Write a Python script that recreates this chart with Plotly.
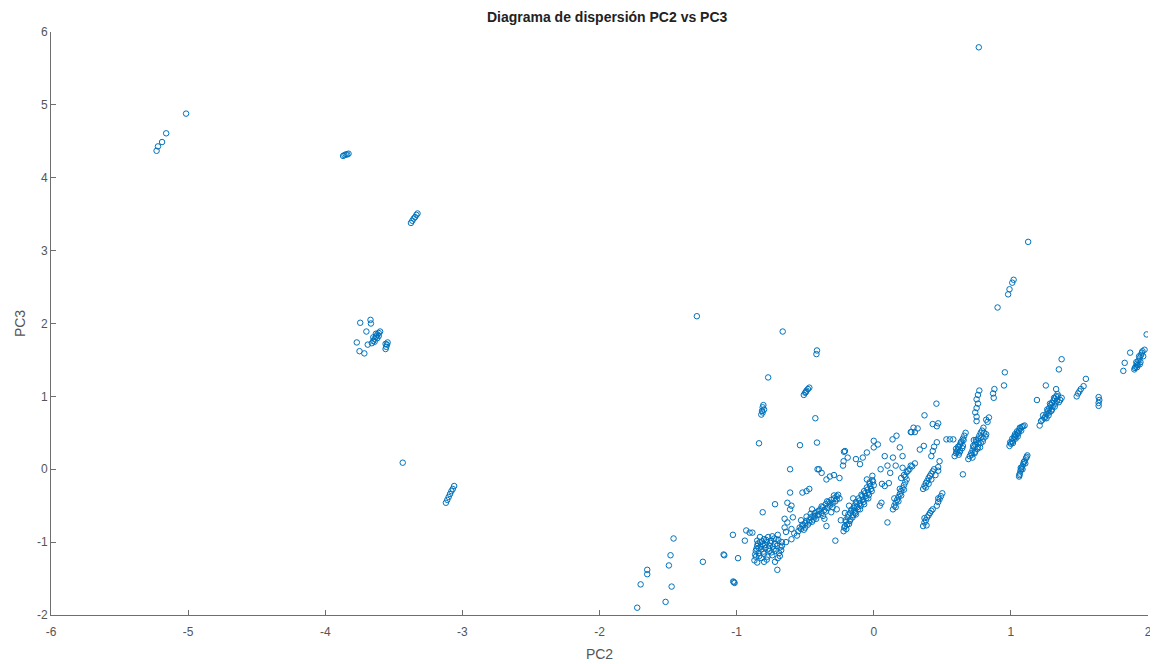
import plotly.graph_objects as go

# ---- data (PC2, PC3) ----
pc2_far = [-5.23, -5.22, -5.19, -5.16, -5.015,
           -3.87, -3.86, -3.85, -3.84, -3.83,
           -3.375, -3.365, -3.355, -3.345, -3.335, -3.327]
pc3_far = [4.37, 4.43, 4.49, 4.61, 4.88,
           4.30, 4.31, 4.32, 4.32, 4.33,
           3.38, 3.41, 3.44, 3.46, 3.49, 3.51]

pc2_left = [-3.745, -3.67, -3.667, -3.70, -3.77, -3.75, -3.715, -3.69,
            -3.66, -3.65, -3.64, -3.63, -3.62, -3.61, -3.60, -3.64, -3.62, -3.61, -3.63, -3.65,
            -3.56, -3.555, -3.55, -3.545, -3.56,
            -3.435,
            -3.12, -3.11, -3.10, -3.09, -3.08, -3.07, -3.06]
pc3_left = [2.01, 2.05, 2.00, 1.89, 1.74, 1.62, 1.59, 1.71,
            1.73, 1.76, 1.79, 1.82, 1.85, 1.87, 1.89, 1.75, 1.80, 1.83, 1.86, 1.81,
            1.65, 1.68, 1.71, 1.74, 1.72,
            0.09,
            -0.46, -0.42, -0.38, -0.34, -0.30, -0.27, -0.23]

pc2_out = [-1.29, 0.766, 1.126, 1.02, 1.01, 0.99, 0.98, 0.903, -0.664, -0.414, -0.418,
           -1.725, -1.70, -1.652, -1.652, -1.518, -1.474, -1.482, -1.494, -1.46, -1.246,
           -1.09, -1.095, -1.02, -1.015, -1.025, -0.99, -1.027, -0.93, -0.905, -0.94, -0.885, -0.703,
           -0.77, -0.51, -0.50, -0.49, -0.48, -0.47, -0.495,
           -0.82, -0.81, -0.80, -0.81, -0.815, -0.805,
           -0.426, -0.837, -0.538, -0.414]
pc3_out = [2.10, 5.79, 3.12, 2.60, 2.56, 2.47, 2.40, 2.22, 1.89, 1.63, 1.58,
           -1.90, -1.58, -1.38, -1.44, -1.82, -1.61, -1.18, -1.32, -0.95, -1.27,
           -1.18, -1.17, -1.55, -1.56, -1.54, -1.22, -0.90, -0.84, -0.87, -0.98, -0.87, -1.38,
           1.26, 1.02, 1.05, 1.08, 1.10, 1.12, 1.06,
           0.75, 0.78, 0.82, 0.85, 0.80, 0.88,
           0.70, 0.356, 0.33, 0.366]

pc2_bandA = [-0.87, -0.86, -0.86, -0.85, -0.85, -0.84, -0.84, -0.83, -0.83, -0.82, -0.82, -0.81,
             -0.80, -0.80, -0.79, -0.78, -0.77, -0.76, -0.76, -0.75, -0.74, -0.74, -0.73, -0.72,
             -0.71, -0.70, -0.70, -0.69, -0.68, -0.67, -0.72, -0.78, -0.85, -0.80,
             -0.67, -0.64, -0.60, -0.56, -0.65, -0.63, -0.65, -0.64,
             -0.865, -0.855, -0.845, -0.835, -0.825, -0.815, -0.805, -0.795, -0.785, -0.775,
             -0.765, -0.755, -0.745, -0.735, -0.725, -0.715, -0.705, -0.695, -0.685, -0.675]
pc3_bandA = [-1.25, -1.20, -1.12, -1.05, -0.98, -1.15, -1.08, -1.00, -0.93, -1.22, -1.10, -1.03,
             -0.96, -1.16, -1.08, -1.00, -0.93, -1.12, -1.05, -0.98, -0.92, -1.18, -1.10, -1.03,
             -0.96, -0.90, -1.22, -1.15, -1.07, -1.00, -1.27, -1.24, -1.28, -1.27,
             -1.05, -1.00, -0.96, -0.91, -0.80, -0.73, -0.68, -0.86,
             -1.17, -1.09, -1.02, -1.19, -1.06, -0.99, -1.13, -1.04, -0.97, -1.20,
             -1.09, -1.01, -1.14, -1.06, -0.95, -1.12, -1.05, -0.97, -1.19, -1.11]

pc2_bandB = [-0.55, -0.53, -0.52, -0.50, -0.50, -0.48, -0.47, -0.46, -0.45, -0.44, -0.43, -0.42,
             -0.41, -0.40, -0.39, -0.38, -0.37, -0.36, -0.35, -0.34, -0.33, -0.32, -0.31, -0.30,
             -0.29, -0.28, -0.27, -0.53, -0.49, -0.45, -0.36, -0.345, -0.31, -0.27, -0.28, -0.58, -0.60,
             -0.54, -0.52, -0.51, -0.49, -0.47, -0.46, -0.44, -0.43, -0.41, -0.40,
             -0.38, -0.37, -0.35, -0.34, -0.32, -0.30, -0.29, -0.27, -0.26, -0.25]
pc3_bandB = [-0.85, -0.82, -0.78, -0.80, -0.74, -0.76, -0.70, -0.66, -0.72, -0.64, -0.60, -0.68,
             -0.58, -0.62, -0.55, -0.60, -0.52, -0.56, -0.48, -0.53, -0.45, -0.50, -0.42, -0.47,
             -0.40, -0.44, -0.37, -0.70, -0.65, -0.55, -0.68, -0.78, -0.59, -0.55, -0.98, -0.88, -0.82,
             -0.80, -0.76, -0.83, -0.71, -0.73, -0.61, -0.69, -0.65, -0.63, -0.57,
             -0.51, -0.64, -0.58, -0.44, -0.47, -0.52, -0.36, -0.41, -0.35, -0.40]

pc2_bandC = [-0.22, -0.21, -0.20, -0.20, -0.19, -0.18, -0.17, -0.17, -0.16, -0.15, -0.14, -0.14,
             -0.13, -0.12, -0.11, -0.10, -0.09, -0.08, -0.07, -0.06, -0.05, -0.04, -0.03, -0.02,
             -0.01, 0.0, -0.13, -0.10, -0.07, -0.04, -0.15, -0.18, -0.21, -0.24,
             -0.215, -0.205, -0.195, -0.185, -0.175, -0.165, -0.155, -0.145, -0.135, -0.125, -0.115,
             -0.105, -0.095, -0.085, -0.075, -0.065, -0.055, -0.045, -0.035, -0.025, -0.015, -0.005]
pc3_bandC = [-0.85, -0.78, -0.72, -0.82, -0.66, -0.75, -0.60, -0.69, -0.55, -0.63, -0.50, -0.58,
             -0.45, -0.52, -0.40, -0.47, -0.35, -0.42, -0.30, -0.37, -0.25, -0.32, -0.20, -0.27,
             -0.15, -0.22, -0.62, -0.55, -0.48, -0.40, -0.40, -0.50, -0.60, -0.70,
             -0.80, -0.70, -0.76, -0.62, -0.71, -0.57, -0.66, -0.53, -0.60, -0.47, -0.55,
             -0.43, -0.50, -0.37, -0.45, -0.33, -0.40, -0.28, -0.35, -0.23, -0.30, -0.17]

pc2_scatter = [-0.41, -0.38, -0.345, -0.32, -0.29, -0.25, -0.47, -0.49, -0.52, -0.61, -0.61, -0.63,
               -0.60, -0.61, -0.72, -0.81, -0.59, -0.217, -0.224, -0.40, -0.21, -0.22, -0.19, -0.13,
               -0.10, -0.05, -0.08, 0.0, 0.03, 0.0, -0.01, -0.05, -0.03, 0.06, 0.08, 0.11, 0.056,
               0.044, 0.1, 0.05, 0.10, 0.12, 0.16]
pc3_scatter = [0.0, -0.05, -0.14, -0.10, -0.08, -0.12, -0.27, -0.30, -0.32, 0.0, -0.32, -0.46,
               -0.50, -0.55, -0.48, -0.59, -0.66, 0.24, 0.05, 0.0, 0.25, 0.11, 0.16, 0.14,
               0.07, 0.23, 0.16, 0.39, 0.34, 0.30, -0.09, -0.14, -0.18, -0.20, -0.23, -0.19, -0.46,
               -0.50, -0.73, 0.0, 0.05, -0.05, 0.05]

pc2_mid = [0.14, 0.15, 0.16, 0.17, 0.18, 0.19, 0.20, 0.21, 0.22, 0.23, 0.24, 0.16, 0.18, 0.20, 0.22, 0.15, 0.19,
           0.20, 0.22, 0.24, 0.26, 0.28, 0.30, 0.23, 0.25, 0.27, 0.21,
           0.166, 0.137, 0.27, 0.29, 0.19, 0.21, 0.08, 0.14, 0.336, 0.365, 0.32, 0.30, 0.275,
           0.37, 0.47, 0.46, 0.43, 0.457,
           0.36, 0.37, 0.38, 0.39, 0.40, 0.41, 0.42, 0.43, 0.44, 0.38, 0.40, 0.42, 0.45, 0.47, 0.48, 0.47,
           0.42, 0.43, 0.44, 0.46, 0.53, 0.555, 0.58,
           0.46, 0.47, 0.48, 0.49, 0.50, 0.47,
           0.36, 0.37, 0.38, 0.39, 0.40, 0.41, 0.42, 0.43, 0.385, 0.37]
pc3_mid = [-0.55, -0.50, -0.46, -0.42, -0.38, -0.34, -0.30, -0.26, -0.22, -0.18, -0.14, -0.52, -0.44, -0.36, -0.28, -0.40, -0.27,
           -0.12, -0.08, -0.04, 0.0, 0.04, 0.08, -0.10, -0.02, 0.05, 0.02,
           0.46, 0.41, 0.51, 0.57, 0.30, 0.18, 0.18, 0.16, 0.27, 0.32, 0.56, 0.51, 0.51,
           0.74, 0.63, 0.59, 0.62, 0.90,
           -0.27, -0.23, -0.19, -0.16, -0.12, -0.09, -0.06, -0.03, 0.0, -0.25, -0.20, -0.14, -0.08, -0.02, 0.11, 0.03,
           0.18, 0.25, 0.31, 0.37, 0.41, 0.41, 0.41,
           -0.50, -0.45, -0.41, -0.37, -0.33, -0.40,
           -0.78, -0.73, -0.70, -0.66, -0.63, -0.60, -0.57, -0.55, -0.77, -0.67]

pc2_right = [0.59, 0.60, 0.61, 0.62, 0.63, 0.64, 0.65, 0.66, 0.67, 0.60, 0.62, 0.63, 0.65,
             0.70, 0.71, 0.72, 0.73, 0.74, 0.75, 0.76, 0.77, 0.78, 0.79, 0.80, 0.72, 0.74, 0.76, 0.78,
             0.80, 0.82, 0.73, 0.69, 0.65,
             0.605, 0.615, 0.625, 0.635, 0.645, 0.655, 0.715, 0.725, 0.735, 0.745, 0.755, 0.765,
             0.775, 0.785, 0.795, 0.805, 0.815,
             0.75, 0.75, 0.74, 0.75, 0.76, 0.75, 0.76, 0.77, 0.875, 0.87, 0.88, 0.83, 0.84, 0.82, 0.95, 0.956,
             0.99, 1.00, 1.01, 1.02, 1.03, 1.04, 1.05, 1.06, 1.07, 1.08, 1.10, 1.01, 1.03, 1.05,
             0.995, 1.015, 1.025, 1.035, 1.045, 1.055, 1.065, 1.075, 1.09,
             1.06, 1.065, 1.07, 1.08, 1.09, 1.10, 1.11, 1.12, 1.075,
             1.062, 1.072, 1.085, 1.095, 1.105, 1.115,
             1.21, 1.22, 1.19,
             1.23, 1.25, 1.26, 1.27, 1.28, 1.29, 1.30, 1.31, 1.32, 1.33, 1.34, 1.26, 1.28, 1.30, 1.32,
             1.35, 1.37, 1.33, 1.255, 1.37, 1.35,
             1.235, 1.245, 1.265, 1.275, 1.285, 1.295, 1.305, 1.315, 1.325, 1.335, 1.345, 1.36,
             1.48, 1.49, 1.50, 1.51, 1.53, 1.547,
             1.64, 1.64, 1.645, 1.64,
             1.82, 1.83, 1.87, 1.90, 1.91, 1.92, 1.93, 1.94, 1.95, 1.96, 1.92, 1.94, 1.99,
             1.905, 1.915, 1.925, 1.935, 1.945, 1.955, 1.965, 1.975]
pc3_right = [0.18, 0.22, 0.26, 0.30, 0.34, 0.38, 0.42, 0.46, 0.50, 0.28, 0.20, 0.25, 0.32,
             0.18, 0.22, 0.26, 0.30, 0.34, 0.38, 0.42, 0.46, 0.50, 0.53, 0.57, 0.16, 0.24, 0.30, 0.36,
             0.42, 0.48, 0.40, 0.14, -0.07,
             0.24, 0.31, 0.23, 0.37, 0.29, 0.40, 0.20, 0.32, 0.22, 0.40, 0.28, 0.36,
             0.30, 0.44, 0.38, 0.50, 0.45,
             0.66, 0.72, 0.78, 0.84, 0.90, 0.96, 1.02, 1.08, 0.98, 1.04, 1.10, 0.65, 0.71, 0.68, 1.15, 1.33,
             0.32, 0.35, 0.38, 0.41, 0.44, 0.47, 0.50, 0.53, 0.56, 0.58, 0.60, 0.42, 0.48, 0.45,
             0.37, 0.36, 0.45, 0.42, 0.52, 0.49, 0.57, 0.53, 0.59,
             -0.10, -0.06, -0.02, 0.03, 0.07, 0.11, 0.15, 0.19, 0.0,
             -0.08, 0.02, 0.00, 0.10, 0.08, 0.17,
             0.60, 0.66, 0.95,
             0.68, 0.72, 0.76, 0.80, 0.84, 0.88, 0.91, 0.94, 0.97, 1.00, 1.03, 0.70, 0.78, 0.82, 0.86,
             0.92, 0.98, 1.10, 1.15, 1.51, 1.37,
             0.74, 0.70, 0.82, 0.74, 0.90, 0.80, 0.86, 0.98, 0.90, 0.94, 1.00, 0.95,
             1.00, 1.04, 1.07, 1.10, 1.14, 1.24,
             0.87, 0.91, 0.95, 0.99,
             1.35, 1.46, 1.60, 1.37, 1.41, 1.45, 1.49, 1.53, 1.57, 1.62, 1.40, 1.44, 1.85,
             1.39, 1.47, 1.43, 1.55, 1.47, 1.60, 1.55, 1.64]

pc2 = pc2_far + pc2_left + pc2_out + pc2_bandA + pc2_bandB + pc2_bandC + pc2_scatter + pc2_mid + pc2_right
pc3 = pc3_far + pc3_left + pc3_out + pc3_bandA + pc3_bandB + pc3_bandC + pc3_scatter + pc3_mid + pc3_right

x_ticks = [-6, -5, -4, -3, -2, -1, 0, 1, 2]
y_ticks = [-2, -1, 0, 1, 2, 3, 4, 5, 6]

axis_color = "#6e6e6e"
font_family = "Arial, 'Liberation Sans', Helvetica, sans-serif"

fig = go.Figure(go.Scatter(
    x=pc2, y=pc3, mode="markers",
    marker=dict(symbol="circle-open", size=5.5, color="#0072BD", line=dict(width=1, color="#0072BD")),
    showlegend=False, hoverinfo="x+y",
))

axis_common = dict(
    showgrid=False, zeroline=False, showline=True, linecolor=axis_color, linewidth=1,
    ticks="inside", ticklen=5, tickwidth=1, tickcolor=axis_color,
    tickfont=dict(family=font_family, size=12, color="#555555"),
    mirror=False, automargin=False,
)

# page body has an 8px margin, so the figure is sized to fit the 1158x664 window
fig.update_layout(
    width=1150, height=656,
    margin=dict(l=43, r=10, t=24, b=49),
    paper_bgcolor="white", plot_bgcolor="white",
    title=dict(text="<b>Diagrama de dispersión PC2 vs PC3</b>", x=0.521, xanchor="center",
               y=0.993, yanchor="top",
               font=dict(family=font_family, size=14, color="#222222")),
    xaxis=dict(range=[-6, 2], tickvals=x_ticks, ticktext=[str(v) for v in x_ticks],
               ticklabelstandoff=6,
               title=dict(text="PC2", font=dict(family=font_family, size=14, color="#555555"), standoff=10),
               **axis_common),
    yaxis=dict(range=[-2, 6], tickvals=y_ticks, ticktext=[str(v) for v in y_ticks],
               title=dict(text="PC3", font=dict(family=font_family, size=14, color="#555555"), standoff=8),
               **axis_common),
)

fig.write_html("out.html")
